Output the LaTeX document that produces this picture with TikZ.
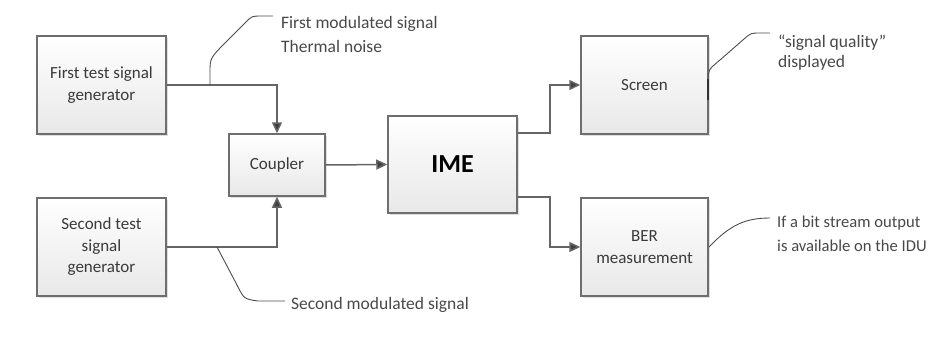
\documentclass[tikz,border=0pt]{standalone}
\usepackage{fontspec}
\setmainfont{Carlito}
\usetikzlibrary{arrows.meta,shadows,calc}
\definecolor{boxline}{HTML}{6E6E6E}
\definecolor{conline}{HTML}{656565}
\definecolor{txt}{HTML}{3A3A3A}
\definecolor{calltxt}{HTML}{484848}
\tikzset{
  blk/.style={draw=boxline, line width=1.5pt, top color=white, bottom color=black!9,
    drop shadow={shadow xshift=1.5pt, shadow yshift=-1.5pt, opacity=.25},
    align=center, font=\fontsize{17}{21.5}\selectfont, text=txt, inner sep=2pt},
  conn/.style={draw=conline, line width=1.5pt, -{Triangle[length=11pt,width=10pt,fill=black!75]}},
  call/.style={draw=black!70, line width=0.9pt},
  calltext/.style={text=calltxt, font=\fontsize{17.5}{24}\selectfont, align=left, anchor=west, inner sep=0pt}
}
\begin{document}
\begin{tikzpicture}[x=1pt,y=-1pt]
\useasboundingbox (0,0) rectangle (932,356);
% boxes
\node[blk, minimum width=129pt, minimum height=98pt] (gen1) at (101.5,85) {First test signal\\generator};
\node[blk, minimum width=129pt, minimum height=98pt] (gen2) at (101.5,247) {Second test\\signal\\generator};
\node[blk, minimum width=96pt, minimum height=62pt] (coup) at (277,165) {Coupler};
\node[blk, minimum width=129pt, minimum height=97pt, font=\fontsize{26}{30}\bfseries\selectfont, text=black] (ime) at (452.5,164.5) {IME};
\node[blk, minimum width=127pt, minimum height=98pt] (scr) at (644.5,85) {Screen};
\node[blk, minimum width=127pt, minimum height=98pt] (ber) at (644.5,247) {BER\\measurement};
% connectors
\draw[conn] (gen1.east) -| (coup.north);
\draw[conn] (gen2.east) -| (coup.south);
\draw[conn] (coup.east) -- (ime.west);
\draw[conn] ([yshift=31.5pt]ime.east) -- ++(32,0) |- (scr.west);
\draw[conn] ([yshift=-32.5pt]ime.east) -- ++(32,0) |- (ber.west);
% callout anchors
\coordinate (k1) at (210,85);
\coordinate (k2) at (217,247);
\coordinate (k3) at (708,100);
\coordinate (k4) at (709,247);
\coordinate (e1) at (273,16);
\coordinate (e2) at (285,301);
\coordinate (e3) at (770,33);
\coordinate (e4) at (770,218);
% callouts
\draw[call] (k1) -- (210,72) .. controls (210,58) .. (228,40) -- (246,22) .. controls (252,16) .. (262,16) -- (e1);
\draw[call] (k2) -- (237,285) .. controls (244,299) .. (258,301) -- (e2);
\draw[call] (k3) -- (708,82) .. controls (708,70) .. (720,60) -- (744,39) .. controls (751,33) .. (760,33) -- (e3);
\draw[call] (k4) .. controls (730,225) and (745,218) .. (e4);
\draw[line width=2pt, draw=black!80] (708,79) -- (k3);
% callout texts
\node[calltext] (t1) at (281,34) {First modulated signal\\Thermal noise};
\node[calltext] (t2) at (291,305) {Second modulated signal};
\node[calltext, font=\fontsize{17.5}{19.5}\selectfont] (t3) at (778,52.5) {“signal quality”\\displayed};
\node[calltext, font=\fontsize{16.6}{24}\selectfont] (t4) at (777,234) {If a bit stream output\\is available on the IDU};
\end{tikzpicture}
\end{document}
